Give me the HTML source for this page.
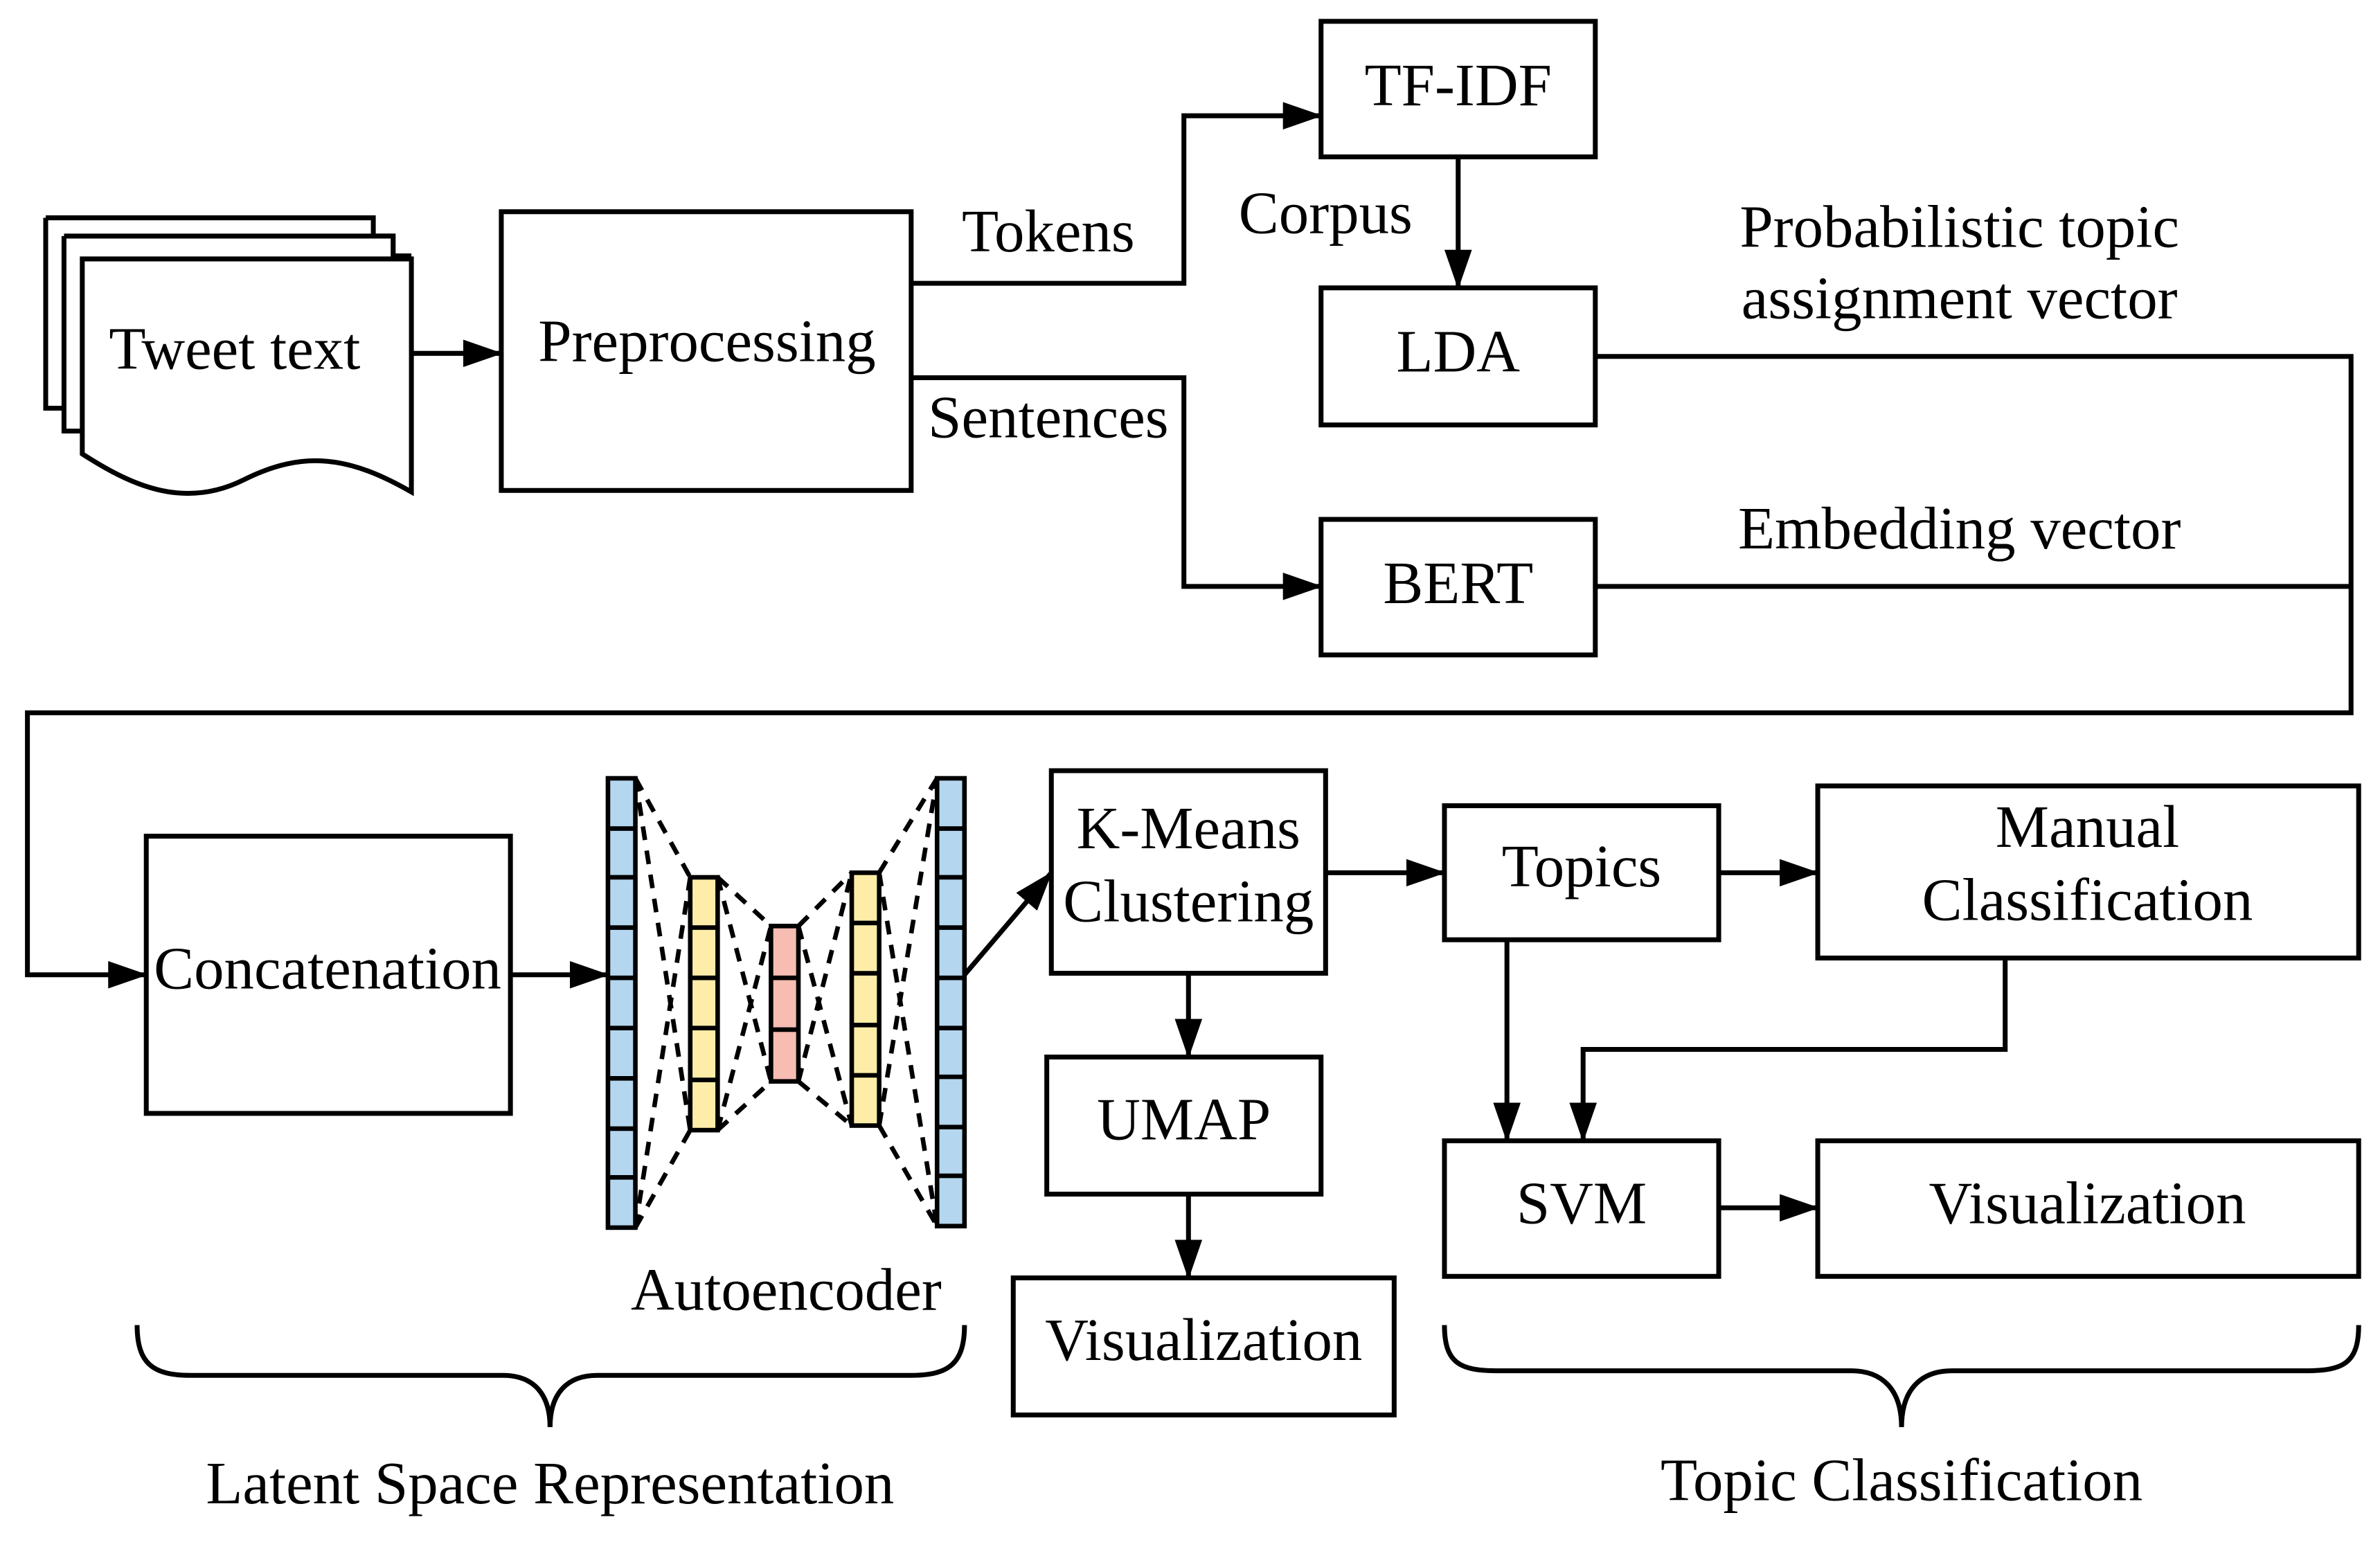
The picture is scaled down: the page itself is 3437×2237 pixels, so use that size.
<!DOCTYPE html>
<html><head><meta charset="utf-8"><style>
html,body{margin:0;padding:0;background:#fff;}
svg{display:block;}
text{font-family:"Liberation Serif",serif;font-size:39.5px;fill:#000;}
</style></head><body>
<svg width="3437" height="2237" viewBox="0 0 1562 1017" preserveAspectRatio="none" xmlns="http://www.w3.org/2000/svg">
<defs>
<marker id="b" markerWidth="26" markerHeight="18" refX="25" refY="9" orient="auto" markerUnits="userSpaceOnUse" viewBox="0 0 26 18">
<path d="M0,0 L26,9 L0,18 Z" fill="#000"/></marker>
</defs>
<g fill="none" stroke="#000" stroke-width="3.2">
<path d="M30,143 H245 V155 H258 V168 H270 M30,143 V268 H42" fill="#fff"/>
<path d="M42,155 H258 V300 M42,155 V283 H54" fill="#fff"/>
<path d="M54,170 H270 V323 C230,300 200,295 160,315 C120,335 85,318 54,298 Z" fill="#fff"/>
<rect x="329" y="139" width="269" height="183"/>
<rect x="867" y="14" width="180" height="89"/>
<rect x="867" y="189" width="180" height="90"/>
<rect x="867" y="341" width="180" height="89"/>
<rect x="96" y="549" width="239" height="182"/>
<rect x="690" y="506" width="180" height="133"/>
<rect x="948" y="529" width="180" height="88"/>
<rect x="1193" y="516" width="355" height="113"/>
<rect x="948" y="749" width="180" height="89"/>
<rect x="1193" y="749" width="355" height="89"/>
<rect x="687" y="694" width="180" height="90"/>
<rect x="665" y="839" width="250" height="90"/>
<path d="M270,232 H329" marker-end="url(#b)"/>
<path d="M598,186 H777 V76 H867" marker-end="url(#b)"/>
<path d="M598,248 H777 V385 H867" marker-end="url(#b)"/>
<path d="M957,103 V189" marker-end="url(#b)"/>
<path d="M1047,234 H1543 V468 H18 V640 H96" marker-end="url(#b)"/>
<path d="M1047,385 H1543"/>
<path d="M335,640 H399" marker-end="url(#b)"/>
<path d="M633,640 L690,573" marker-end="url(#b)"/>
<path d="M870,573 H948" marker-end="url(#b)"/>
<path d="M1128,573 H1193" marker-end="url(#b)"/>
<path d="M989,617 V749" marker-end="url(#b)"/>
<path d="M1316,629 V689 H1039 V749" marker-end="url(#b)"/>
<path d="M1128,793 H1193" marker-end="url(#b)"/>
<path d="M780,639 V694" marker-end="url(#b)"/>
<path d="M780,784 V839" marker-end="url(#b)"/>
<path d="M90,870 C90,895 100,903 125,903 H330 C350,903 361,915 361,937 C361,915 372,903 392,903 H598 C623,903 633,895 633,870"/>
<path d="M948,870 C948,895 958,900 983,900 H1215 C1235,900 1248,912 1248,937 C1248,912 1261,900 1281,900 H1513 C1538,900 1548,895 1548,870"/>
</g>
<g stroke="#000" stroke-width="3" stroke-dasharray="9,7" fill="none">
<path d="M417,511 L453,576 M417,511 L453,742 M417,806 L453,576 M417,806 L453,742"/>
<path d="M471,576 L506,608 M471,576 L506,710 M471,742 L506,608 M471,742 L506,710"/>
<path d="M524,608 L559,573 M524,608 L559,739 M524,710 L559,573 M524,710 L559,739"/>
<path d="M577,573 L615,511 M577,573 L615,805 M577,739 L615,511 M577,739 L615,805"/>
</g>
<g stroke="#000" stroke-width="3">
<g fill="#b4d6ee">
<rect x="399" y="511" width="18" height="295"/>
<rect x="615" y="511" width="18" height="294"/>
</g>
<rect x="453" y="576" width="18" height="166" fill="#fdeda8"/>
<rect x="559" y="573" width="18" height="166" fill="#fdeda8"/>
<rect x="506" y="608" width="18" height="102" fill="#f7bcb2"/>
<path d="M399,544 H417 M399,576 H417 M399,609 H417 M399,642 H417 M399,675 H417 M399,708 H417 M399,741 H417 M399,773 H417"/>
<path d="M615,544 H633 M615,576 H633 M615,609 H633 M615,642 H633 M615,675 H633 M615,707 H633 M615,740 H633 M615,772 H633"/>
<path d="M453,609 H471 M453,642 H471 M453,675 H471 M453,709 H471"/>
<path d="M559,606 H577 M559,639 H577 M559,673 H577 M559,706 H577"/>
<path d="M506,642 H524 M506,676 H524"/>
</g>
<g text-anchor="middle">
<text x="154" y="242">Tweet text</text>
<text x="464" y="237">Preprocessing</text>
<text x="957" y="69">TF-IDF</text>
<text x="957" y="244">LDA</text>
<text x="957" y="396">BERT</text>
<text x="688" y="165">Tokens</text>
<text x="870" y="153">Corpus</text>
<text x="688" y="287">Sentences</text>
<text x="1286" y="162">Probabilistic topic</text>
<text x="1286" y="209">assignment vector</text>
<text x="1286" y="360">Embedding vector</text>
<text x="215" y="649">Concatenation</text>
<text x="780" y="557">K-Means</text>
<text x="780" y="605">Clustering</text>
<text x="1038" y="582">Topics</text>
<text x="1370" y="556">Manual</text>
<text x="1370" y="604">Classification</text>
<text x="1038" y="803">SVM</text>
<text x="1370" y="803">Visualization</text>
<text x="777" y="748">UMAP</text>
<text x="790" y="893">Visualization</text>
<text x="516" y="860">Autoencoder</text>
<text x="361" y="987">Latent Space Representation</text>
<text x="1248" y="985">Topic Classification</text>
</g>
</svg>
</body></html>
